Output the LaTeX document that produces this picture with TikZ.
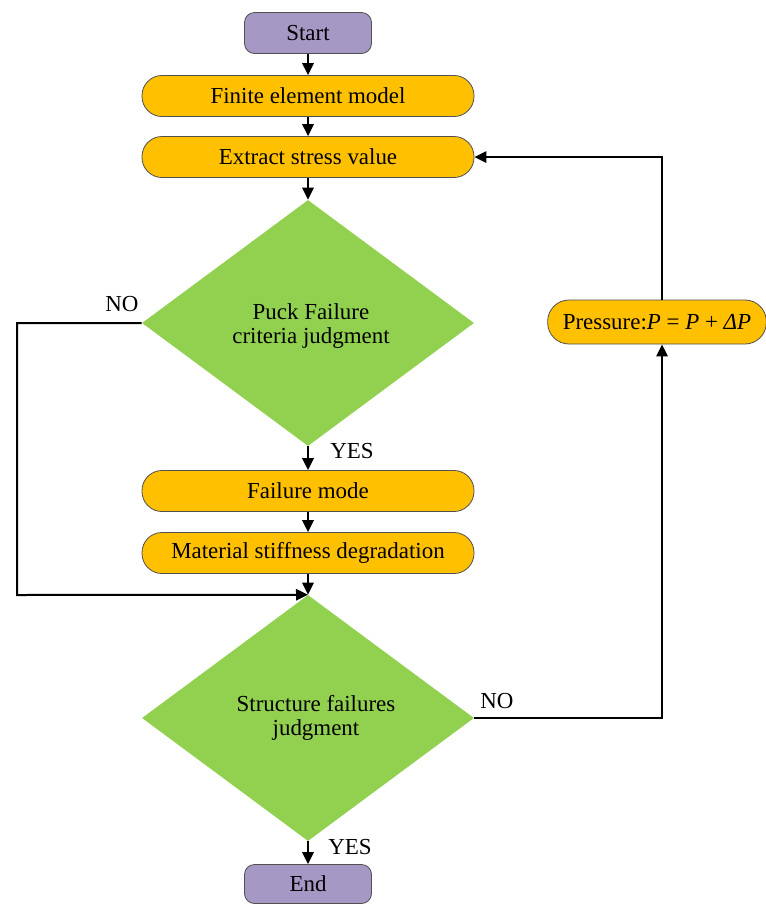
\documentclass[tikz,border=0pt]{standalone}
\usepackage{fontspec}
\setmainfont{Liberation Serif}
\usetikzlibrary{arrows.meta,shapes.geometric}
\definecolor{termfill}{HTML}{A698C4}
\definecolor{procfill}{HTML}{FFC000}
\definecolor{decfill}{HTML}{92D050}
\definecolor{edgegray}{HTML}{505050}
\begin{document}
\begin{tikzpicture}[x=0.75pt,y=-0.75pt,
  every node/.style={font=\fontsize{17.2}{18}\selectfont},
  term/.style={draw=edgegray,line width=0.6pt,fill=termfill,rounded corners=7.5pt,minimum width=95.25pt,minimum height=30.75pt,inner sep=0pt},
  proc/.style={draw=edgegray,line width=0.6pt,fill=procfill,rounded corners=15pt,minimum width=249pt,minimum height=30.75pt,inner sep=0pt},
  dec/.style={draw=none,fill=decfill,diamond,minimum width=249pt,minimum height=184.5pt,inner sep=0pt,shape aspect=1.35},
  dtext/.style={align=center,inner sep=0pt},
  conn/.style={line width=1.5pt,-{Triangle[length=9pt,width=8.5pt]}},
  lbl/.style={inner sep=0pt}]
\useasboundingbox (0,0) rectangle (766,904);
\node[term] (start) at (308,33) {Start};
\node[proc] (fem) at (308,96) {Finite element model};
\node[proc] (extract) at (308,157) {Extract stress value};
\node[dec] (puck) at (308,323) {};
\node[dtext] (pucktxt) at (311,326) {Puck Failure\\criteria judgment};
\node[proc] (mode) at (308,491) {Failure mode};
\node[proc] (stiff) at (308,553) {Material stiffness degradation};
\node[dec] (struct) at (308,718) {};
\node[dtext] (structtxt) at (316,718) {Structure failures\\judgment};
\node[term,minimum height=29.25pt] (end) at (308,884) {End};
\node[proc,minimum width=164pt,minimum height=33pt,rounded corners=16pt] (press) at (657,322) {Pressure:\textit{P} = \textit{P} + \textit{ΔP}};
\coordinate (lcornerA) at (17,323);
\coordinate (lcornerB) at (17,595);
\coordinate (rcornerA) at (662,718);
\coordinate (rcornerB) at (662,157);
\draw[conn] (start) -- (fem);
\draw[conn] (fem) -- (extract);
\draw[conn] (extract) -- (puck.north);
\draw[conn] (puck.south) -- (mode);
\draw[conn] (mode) -- (stiff);
\draw[conn] (stiff) -- (struct.north);
\draw[conn] (struct.south) -- (end);
\draw[conn] (puck.west) -- (lcornerA) -- (lcornerB) -- (struct.north);
\draw[conn] (struct.east) -- (rcornerA) -- (rcornerA |- press.south);
\draw[conn] (rcornerB |- press.north) -- (rcornerB) -- (extract.east);
\node[lbl] (no1) at (122,304) {NO};
\node[lbl] (yes1) at (352,451) {YES};
\node[lbl] (no2) at (497,701) {NO};
\node[lbl] (yes2) at (350,847) {YES};
\end{tikzpicture}
\end{document}
